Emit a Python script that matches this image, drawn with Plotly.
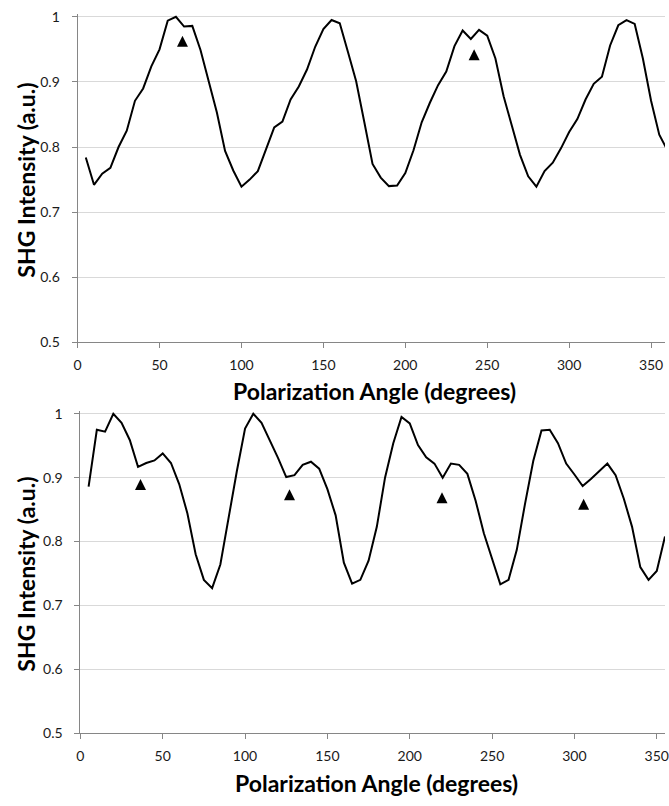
import plotly.graph_objects as go

# angles in degrees, every 5 deg
angle_top = list(range(5, 365, 5))
shg_top = [0.784, 0.742, 0.759, 0.768, 0.800, 0.825, 0.871, 0.890, 0.924, 0.950,
           0.994, 1.000, 0.985, 0.986, 0.949, 0.903, 0.853, 0.794, 0.764, 0.739,
           0.750, 0.763, 0.795, 0.830, 0.839, 0.873, 0.893, 0.919, 0.954, 0.981,
           0.995, 0.990, 0.946, 0.901, 0.838, 0.774, 0.753, 0.740, 0.741, 0.760,
           0.795, 0.838, 0.868, 0.895, 0.916, 0.955, 0.979, 0.966, 0.980, 0.971,
           0.936, 0.878, 0.833, 0.788, 0.755, 0.739, 0.763, 0.776, 0.798, 0.823,
           0.843, 0.873, 0.897, 0.908, 0.956, 0.987, 0.995, 0.989, 0.936, 0.871,
           0.819, 0.795]

angle_bot = list(range(5, 360, 5))
shg_bot = [0.886, 0.975, 0.972, 1.000, 0.986, 0.959, 0.917, 0.923, 0.927, 0.938,
           0.923, 0.890, 0.844, 0.780, 0.740, 0.727, 0.764, 0.838, 0.910, 0.977,
           1.000, 0.986, 0.959, 0.931, 0.901, 0.904, 0.920, 0.925, 0.914, 0.882,
           0.841, 0.767, 0.734, 0.740, 0.770, 0.823, 0.900, 0.954, 0.995, 0.985,
           0.951, 0.932, 0.922, 0.900, 0.922, 0.920, 0.906, 0.864, 0.813, 0.772,
           0.733, 0.740, 0.787, 0.859, 0.926, 0.974, 0.975, 0.954, 0.922, 0.905,
           0.887, 0.898, 0.910, 0.922, 0.904, 0.867, 0.823, 0.760, 0.740, 0.754,
           0.808]

# arrow markers (tip positions)
mark_top_x = [64, 242]
mark_top_y = [0.971, 0.950]
mark_bot_x = [36.5, 127, 219.6, 305.6]
mark_bot_y = [0.898, 0.882, 0.877, 0.867]

x_ticks = [0, 50, 100, 150, 200, 250, 300, 350]
y_ticks = [0.5, 0.6, 0.7, 0.8, 0.9, 1.0]
y_ticktext = ["0.5", "0.6", "0.7", "0.8", "0.9", "1"]

W, H = 669, 806
FONT = "Lato"

fig = go.Figure()
fig.add_trace(go.Scatter(x=angle_top, y=shg_top, mode="lines",
                         line=dict(color="black", width=2), xaxis="x", yaxis="y"))
fig.add_trace(go.Scatter(x=mark_top_x, y=mark_top_y, mode="markers",
                         marker=dict(symbol="arrow-up", size=11, color="black"),
                         xaxis="x", yaxis="y"))
fig.add_trace(go.Scatter(x=angle_bot, y=shg_bot, mode="lines",
                         line=dict(color="black", width=2), xaxis="x2", yaxis="y2"))
fig.add_trace(go.Scatter(x=mark_bot_x, y=mark_bot_y, mode="markers",
                         marker=dict(symbol="arrow-up", size=11, color="black"),
                         xaxis="x2", yaxis="y2"))

def xax(left, xmax, anchor):
    return dict(domain=[left / W, 1.0], range=[0, xmax], anchor=anchor,
                tickvals=x_ticks, ticks="outside", ticklen=5, tickcolor="#868686",
                showline=True, linecolor="#868686", linewidth=1,
                showgrid=False, zeroline=False, ticklabelstandoff=5,
                ticklabeloverflow="allow",
                tickfont=dict(family=FONT, size=14, color="#1a1a1a"))

def yax(top_px, bot_px, anchor):
    # small headroom so a peak at 1.0 is not clipped
    pad_px = 3.0
    ymax = 1 + pad_px * 0.5 / (bot_px - top_px)
    return dict(domain=[(H - bot_px) / H, (H - top_px + pad_px) / H],
                range=[0.5, ymax], anchor=anchor,
                tickvals=y_ticks, ticktext=y_ticktext, ticks="outside", ticklen=5,
                tickcolor="#868686", showline=True, linecolor="#868686", linewidth=1,
                showgrid=True, gridcolor="#d9d9d9", gridwidth=1, zeroline=False,
                ticklabelstandoff=9,
                tickfont=dict(family=FONT, size=14, color="#1a1a1a"))

fig.update_layout(
    width=W, height=H,
    margin=dict(l=0, r=0, t=0, b=0),
    paper_bgcolor="white", plot_bgcolor="white",
    showlegend=False,
    xaxis=xax(74.5, 358.5, "y"),
    yaxis=yax(11, 342.3, "x"),
    xaxis2=xax(77.3, 355, "y2"),
    yaxis2=yax(415, 740, "x2"),
)

title_font = dict(family=FONT, size=23, color="black")
for cx, cy in [(374.5, 392), (377, 791)]:
    fig.add_annotation(text="<b>Polarization Angle (degrees)</b>",
                       x=cx / W, y=(H - cy) / H,
                       xref="paper", yref="paper", showarrow=False, font=title_font,
                       xanchor="center", yanchor="middle")
for cx, cy in [(22, 177), (22, 578)]:
    fig.add_annotation(text="<b>SHG Intensity (a.u.)</b>",
                       x=cx / W, y=(H - cy) / H,
                       xref="paper", yref="paper", showarrow=False, font=title_font,
                       textangle=-90, xanchor="center", yanchor="middle")

# drop the default page margin so the figure sits at the window corner
fig.write_html("out.html", config={"displayModeBar": False},
               post_script="document.body.style.margin='0';")
